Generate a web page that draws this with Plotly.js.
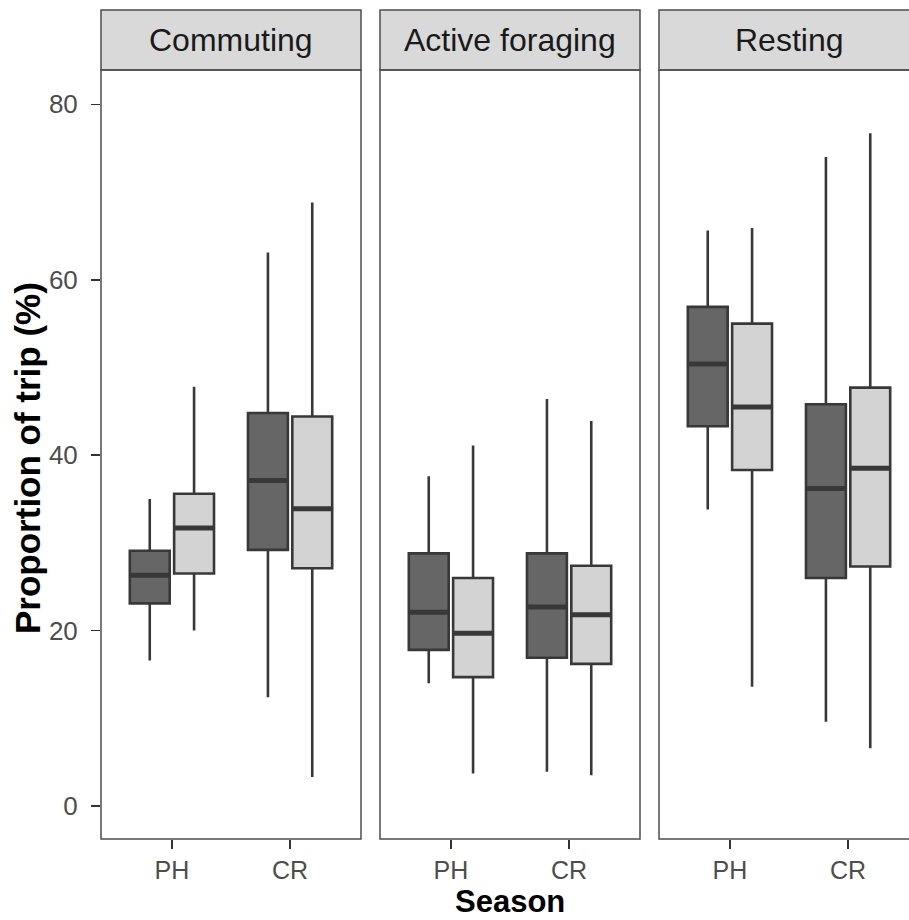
<!DOCTYPE html>
<html>
<head>
<meta charset="utf-8">
<script src="https://cdn.plot.ly/plotly-3.0.1.min.js"></script>
<style>html,body{margin:0;padding:0;background:#fff;}#chart{width:909px;height:920px;}</style>
</head>
<body>
<div id="chart"></div>
<script>
// ---- data ----
const categories = ['PH', 'CR'];
const panels = ['Commuting', 'Active foraging', 'Resting'];
const yTicks = [0, 20, 40, 60, 80];

// Commuting
const commDarkLo  = [16.6, 12.4];
const commDarkQ1  = [23.1, 29.2];
const commDarkMed = [26.3, 37.1];
const commDarkQ3  = [29.1, 44.8];
const commDarkHi  = [35.0, 63.1];
const commLightLo  = [20.0, 3.3];
const commLightQ1  = [26.5, 27.1];
const commLightMed = [31.7, 33.9];
const commLightQ3  = [35.6, 44.4];
const commLightHi  = [47.8, 68.8];

// Active foraging
const forDarkLo  = [14.0, 3.9];
const forDarkQ1  = [17.8, 16.9];
const forDarkMed = [22.1, 22.7];
const forDarkQ3  = [28.8, 28.8];
const forDarkHi  = [37.6, 46.4];
const forLightLo  = [3.7, 3.5];
const forLightQ1  = [14.7, 16.2];
const forLightMed = [19.7, 21.8];
const forLightQ3  = [26.0, 27.4];
const forLightHi  = [41.1, 43.9];

// Resting
const restDarkLo  = [33.8, 9.6];
const restDarkQ1  = [43.3, 26.0];
const restDarkMed = [50.4, 36.2];
const restDarkQ3  = [56.9, 45.8];
const restDarkHi  = [65.6, 74.0];
const restLightLo  = [13.6, 6.6];
const restLightQ1  = [38.3, 27.3];
const restLightMed = [45.5, 38.5];
const restLightQ3  = [55.0, 47.7];
const restLightHi  = [65.9, 76.7];

// ---- styling ----
const FONT = 'Liberation Sans, Arial, Helvetica, sans-serif';
const darkFill = '#666666', lightFill = '#D3D3D3', outline = '#383838';
const borderCol = '#4d4d4d';

function box(xa, name, fill, lo, q1, med, q3, hi) {
  return {
    type: 'box', xaxis: xa, yaxis: 'y', name: name, offsetgroup: name,
    x: categories, lowerfence: lo, q1: q1, median: med, q3: q3, upperfence: hi,
    fillcolor: fill, line: {color: outline, width: 2.6},
    whiskerwidth: 0, boxpoints: false, showlegend: false, hoverinfo: 'skip'
  };
}
// thick median bar (ggplot draws the median twice as thick): a flat box at the median
function medianBar(xa, name, med) {
  return {
    type: 'box', xaxis: xa, yaxis: 'y', name: name, offsetgroup: name,
    x: categories, lowerfence: med, q1: med, median: med, q3: med, upperfence: med,
    fillcolor: 'rgba(0,0,0,0)', line: {color: outline, width: 5},
    whiskerwidth: 0, boxpoints: false, showlegend: false, hoverinfo: 'skip'
  };
}

const traces = [
  box('x',  'A', darkFill,  commDarkLo,  commDarkQ1,  commDarkMed,  commDarkQ3,  commDarkHi),
  box('x',  'B', lightFill, commLightLo, commLightQ1, commLightMed, commLightQ3, commLightHi),
  box('x2', 'A', darkFill,  forDarkLo,   forDarkQ1,   forDarkMed,   forDarkQ3,   forDarkHi),
  box('x2', 'B', lightFill, forLightLo,  forLightQ1,  forLightMed,  forLightQ3,  forLightHi),
  box('x3', 'A', darkFill,  restDarkLo,  restDarkQ1,  restDarkMed,  restDarkQ3,  restDarkHi),
  box('x3', 'B', lightFill, restLightLo, restLightQ1, restLightMed, restLightQ3, restLightHi),
  medianBar('x',  'A', commDarkMed),
  medianBar('x',  'B', commLightMed),
  medianBar('x2', 'A', forDarkMed),
  medianBar('x2', 'B', forLightMed),
  medianBar('x3', 'A', restDarkMed),
  medianBar('x3', 'B', restLightMed)
];

const W = 909, H = 920;
const mL = 101, mR = 0, mT = 70, mB = 81;
const plotW = W - mL - mR, plotH = H - mT - mB;
const panelPx = 260, gapPx = 19;
const doms = [0, 1, 2].map(i => {
  const a = i * (panelPx + gapPx) / plotW;
  return [a, Math.min(1, a + panelPx / plotW)];
});
const unitPx = panelPx / 2.2;
const lastRangeEnd = -0.6 + (doms[2][1] - doms[2][0]) * plotW / unitPx;

const xBase = {
  type: 'category', showgrid: false, zeroline: false, showline: false,
  ticks: 'outside', ticklen: 9, tickwidth: 1.6, tickcolor: '#333333',
  tickfont: {family: FONT, size: 25, color: '#4D4D4D'},
  fixedrange: true, anchor: 'y'
};

const stripH = 60 / plotH;
const shapes = [];
const annotations = [];
doms.forEach((d, i) => {
  const x1 = (i === 2) ? 1.03 : d[1];
  shapes.push({type: 'rect', xref: 'paper', yref: 'paper', x0: d[0], x1: x1, y0: 1, y1: 1 + stripH,
    fillcolor: '#D9D9D9', line: {color: borderCol, width: 1.5}, layer: 'below'});
  if (i < 2) {
    shapes.push({type: 'rect', xref: 'paper', yref: 'paper', x0: d[0], x1: d[1], y0: 0, y1: 1,
      line: {color: borderCol, width: 1.5}, layer: 'above'});
  } else {
    shapes.push({type: 'path', xref: 'paper', yref: 'paper',
      path: `M ${x1} 0 L ${d[0]} 0 L ${d[0]} 1 L ${x1} 1`,
      line: {color: borderCol, width: 1.5}, layer: 'above'});
  }
  annotations.push({xref: 'paper', yref: 'paper', x: (d[0] + d[0] + panelPx / plotW) / 2, y: 1 + stripH / 2,
    xanchor: 'center', yanchor: 'middle', showarrow: false, text: panels[i],
    font: {family: FONT, size: 32, color: '#1A1A1A'}});
});
annotations.push({xref: 'paper', yref: 'paper', x: (doms[0][0] + doms[2][0] + panelPx / plotW) / 2,
  y: -(901 - (H - mB)) / plotH, xanchor: 'center', yanchor: 'middle', showarrow: false,
  text: '<b>Season</b>', font: {family: FONT, size: 31, color: '#000000'}});
annotations.push({xref: 'paper', yref: 'paper', x: -(mL - 27) / plotW, y: 1 - (458 - mT) / plotH,
  xanchor: 'center', yanchor: 'middle', showarrow: false, textangle: -90,
  text: '<b>Proportion of trip (%)</b>', font: {family: FONT, size: 35, color: '#000000'}});

const layout = {
  width: W, height: H,
  margin: {l: mL, r: mR, t: mT, b: mB, pad: 0},
  paper_bgcolor: '#ffffff', plot_bgcolor: '#ffffff',
  showlegend: false,
  boxmode: 'group', boxgap: 0.25, boxgroupgap: 0.1,
  xaxis:  Object.assign({}, xBase, {domain: doms[0], range: [-0.6, 1.6]}),
  xaxis2: Object.assign({}, xBase, {domain: doms[1], range: [-0.6, 1.6]}),
  xaxis3: Object.assign({}, xBase, {domain: doms[2], range: [-0.6, lastRangeEnd]}),
  yaxis: {
    domain: [0, 1], range: [-3.76, 83.91], tickvals: yTicks, ticktext: yTicks.map(String),
    showgrid: false, zeroline: false, showline: false,
    ticks: 'outside', ticklen: 9, tickwidth: 1.6, tickcolor: '#333333', ticklabelstandoff: 8,
    tickfont: {family: FONT, size: 26, color: '#4D4D4D'}, fixedrange: true, anchor: 'x'
  },
  shapes: shapes,
  annotations: annotations
};

Plotly.newPlot('chart', traces, layout, {displayModeBar: false, staticPlot: true});
</script>
</body>
</html>
